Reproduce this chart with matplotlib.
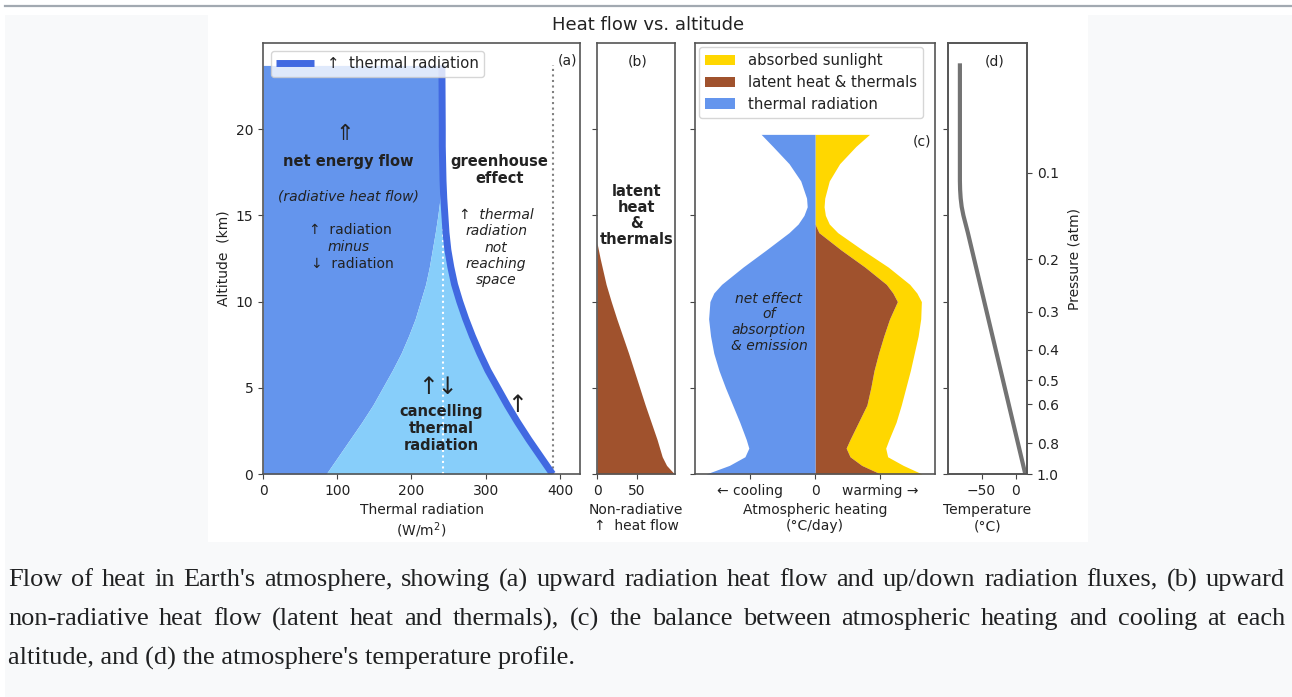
import matplotlib
matplotlib.use("Agg")
import matplotlib.pyplot as plt
from matplotlib.patches import Rectangle
from matplotlib.lines import Line2D

W, H = 1292, 697

# (a) thermal radiation, W/m2
alt_a = [0, 1, 2, 3, 4, 5, 6, 7, 8, 9, 10, 11, 12, 13, 14, 15, 16, 17, 18, 19, 20, 23.7]
up_flux = [390, 374, 358, 343, 329, 316, 303, 292, 282, 273, 265, 258, 253, 249, 246.5,
           245, 243.5, 242.5, 242, 241.5, 241.5, 241]
net_flux = [85, 101, 117, 133, 148, 161, 174, 186, 196, 205, 212, 219, 224, 228, 232,
            235.5, 238.5, 240.5, 241.5, 241.5, 241.5, 241]
surface_emission = 390
olr = 242

# (b) non-radiative upward heat flow
alt_b = [0, 0.5, 1, 2, 3, 4, 5, 6, 7, 8, 9, 10, 11, 12, 12.5, 13, 13.4]
nonrad_flow = [98, 88, 82.5, 76, 68.5, 61, 54, 47, 40, 32.5, 25, 18, 11.5, 6.5, 4, 1.8, 0]

# (c) heating rates, degC/day
alt_c = [0, 0.5, 1, 1.5, 2, 3, 4, 5, 6, 7, 8, 9, 10, 10.5, 11, 12, 13, 14, 14.5, 15,
         15.5, 16, 17, 18, 19, 19.7]
cooling = [1.68, 1.32, 1.08, 1.02, 1.06, 1.16, 1.27, 1.38, 1.48, 1.56, 1.61, 1.64, 1.62,
           1.56, 1.44, 1.11, 0.75, 0.40, 0.26, 0.17, 0.12, 0.13, 0.22, 0.40, 0.65, 0.83]
latent = [1.01, 0.72, 0.54, 0.48, 0.54, 0.67, 0.80, 0.86, 0.91, 0.98, 1.06, 1.15, 1.27,
          1.20, 1.10, 0.77, 0.40, 0.06, 0, 0, 0, 0, 0, 0, 0, 0]
solar = [0.64, 0.64, 0.58, 0.61, 0.60, 0.58, 0.53, 0.54, 0.56, 0.55, 0.53, 0.48, 0.37,
         0.37, 0.36, 0.36, 0.33, 0.29, 0.22, 0.16, 0.14, 0.15, 0.22, 0.38, 0.63, 0.84]

# (d) temperature profile
alt_d = [0, 5, 10, 14, 15, 15.5, 16, 16.5, 17, 23.7]
temp_c = [14, -16, -46, -70, -76.5, -79, -80.5, -81.3, -81.6, -81.6]
pressure_labels = ["0.1", "0.2", "0.3", "0.4", "0.5", "0.6", "0.8", "1.0"]
pressure_alt = [17.48, 12.46, 9.42, 7.2, 5.45, 4.04, 1.78, 0.0]

caption_lines = [
    "Flow of heat in Earth's atmosphere, showing (a) upward radiation heat flow and up/down radiation fluxes, (b) upward",
    "non-radiative heat flow (latent heat and thermals), (c) the balance between atmospheric heating and cooling at each",
    "altitude, and (d) the atmosphere's temperature profile.",
]

MID = "#6495ED"
LIGHT = "#87CEFA"
DARK = "#4169E1"
BROWN = "#A0522D"
GOLD = "#FFD700"
TXT = "#222222"

plt.rcParams["font.family"] = ["DejaVu Sans"]
plt.rcParams["font.size"] = 10
plt.rcParams["text.color"] = TXT
plt.rcParams["axes.labelcolor"] = TXT
plt.rcParams["xtick.color"] = "#444444"
plt.rcParams["ytick.color"] = "#444444"
plt.rcParams["xtick.labelcolor"] = TXT
plt.rcParams["ytick.labelcolor"] = TXT
plt.rcParams["axes.edgecolor"] = "#555555"
plt.rcParams["axes.linewidth"] = 1.2


def px(x):
    return x / W


def py(y):
    return 1 - y / H


fig = plt.figure(figsize=(W / 100, H / 100), dpi=100)
fig.patch.set_facecolor("white")
fig.add_artist(Rectangle((px(5), 0), 1 - px(5), py(15), transform=fig.transFigure,
                         facecolor="#f8f9fa", edgecolor="none", zorder=-20))
fig.add_artist(Rectangle((px(208), py(542)), px(1088 - 208), (542 - 15) / H,
                         transform=fig.transFigure, facecolor="white", edgecolor="none",
                         zorder=-19))
fig.add_artist(Line2D([px(5), 1], [py(5.5), py(5.5)], transform=fig.transFigure,
                      color="#a2a9b1", lw=1.6, zorder=-18))

bottom, top = py(474), py(43)
hgt = top - bottom
ax_a = fig.add_axes([px(263), bottom, px(580 - 263), hgt])
ax_b = fig.add_axes([px(597), bottom, px(675 - 597), hgt])
ax_c = fig.add_axes([px(695), bottom, px(935 - 695), hgt])
ax_d = fig.add_axes([px(948), bottom, px(1027 - 948), hgt])

for ax in (ax_a, ax_b, ax_c, ax_d):
    ax.set_ylim(0, 25)
    ax.set_yticks([0, 5, 10, 15, 20])
for ax in (ax_b, ax_c, ax_d):
    ax.set_yticklabels([])

# ---- (a)
ax_a.fill_betweenx(alt_a, 0, net_flux, color=MID, lw=0)
ax_a.fill_betweenx(alt_a, net_flux, up_flux, color=LIGHT, lw=0)
ax_a.plot([olr, olr], [0, alt_a[-1]], color="white", ls=":", lw=1.5)
ax_a.plot([surface_emission, surface_emission], [0, alt_a[-1]], color="gray", ls=":", lw=1.5)
ax_a.plot(up_flux, alt_a, color=DARK, lw=5, solid_capstyle="butt",
          label="↑  thermal radiation")
ax_a.set_xlim(0, 427)
ax_a.set_xticks([0, 100, 200, 300, 400])
ax_a.set_xlabel("Thermal radiation\n(W/m$^2$)")
ax_a.set_ylabel("Altitude  (km)")
ax_a.legend(loc="upper left", fontsize=10.7, borderaxespad=0.55, handlelength=2.5,
            handletextpad=0.9, borderpad=0.35)
ax_a.text(410, 24.0, "(a)", ha="center", va="center")
ax_a.text(110, 19.7, "⇑", ha="center", va="center", fontsize=16)
ax_a.text(115, 18.12, "net energy flow", ha="center", va="center", fontweight="bold",
          fontsize=10.5)
ax_a.text(114.5, 16.09, "(radiative heat flow)", ha="center", va="center", style="italic")
ax_a.text(118, 14.16, "↑  radiation", ha="center", va="center")
ax_a.text(115.5, 13.15, "minus", ha="center", va="center", style="italic")
ax_a.text(120, 12.18, "↓  radiation", ha="center", va="center")
ax_a.text(318.6, 17.64, "greenhouse\neffect", ha="center", va="center", fontweight="bold",
          fontsize=10.5, linespacing=1.15)
ax_a.text(314, 13.13, "↑  thermal\nradiation\nnot\nreaching\nspace", ha="center",
          va="center", style="italic", linespacing=1.22)
ax_a.text(235.5, 5.05, "↑↓", ha="center", va="center", fontsize=17)
ax_a.text(240, 2.65, "cancelling\nthermal\nradiation", ha="center", va="center",
          fontweight="bold", fontsize=10.5, linespacing=1.15)
ax_a.text(342, 4.0, "↑", ha="center", va="center", fontsize=17)

# ---- (b)
ax_b.fill_betweenx(alt_b, 0, nonrad_flow, color=BROWN, lw=0)
ax_b.set_xlim(0, 98.7)
ax_b.set_xticks([0, 50])
ax_b.set_xlabel("Non-radiative\n↑  heat flow")
ax_b.text(51, 23.9, "(b)", ha="center", va="center")
ax_b.text(50.4, 15.0, "latent\nheat\n&\nthermals", ha="center", va="center",
          fontweight="bold", fontsize=10.5, linespacing=1.1)

# ---- (c)
total = [l + s for l, s in zip(latent, solar)]
neg_cool = [-c for c in cooling]
ax_c.fill_betweenx(alt_c, latent, total, color=GOLD, lw=0, label="absorbed sunlight")
ax_c.fill_betweenx(alt_c, 0, latent, color=BROWN, lw=0, label="latent heat & thermals")
ax_c.fill_betweenx(alt_c, neg_cool, 0, color=MID, lw=0, label="thermal radiation")
ax_c.set_xlim(-1.85, 1.85)
ax_c.set_xticks([-1, 0, 1])
ax_c.set_xticklabels(["← cooling", "0", "warming →"])
ax_c.set_xlabel("Atmospheric heating\n(°C/day)")
ax_c.legend(loc="upper left", fontsize=10.7, borderaxespad=0.3, borderpad=0.4,
            handlelength=2.0, handletextpad=0.9, labelspacing=0.45)
ax_c.text(1.65, 19.28, "(c)", ha="center", va="center")
ax_c.text(-0.71, 8.8, "net effect\nof\nabsorption\n& emission", ha="center", va="center",
          style="italic", linespacing=1.15)

# ---- (d)
ax_d.plot(temp_c, alt_d, color="0.45", lw=3)
ax_d.set_xlim(-99, 16.5)
ax_d.set_xticks([-50, 0])
ax_d.set_xlabel("Temperature\n(°C)")
ax_d.text(-30.6, 23.9, "(d)", ha="center", va="center")
ax_p = ax_d.twinx()
ax_p.set_ylim(0, 25)
ax_p.set_yticks(pressure_alt)
ax_p.set_yticklabels(pressure_labels)
ax_p.set_ylabel("Pressure (atm)", labelpad=6)

fig.text(px(648), py(25), "Heat flow vs. altitude", ha="center", va="center", fontsize=13)

# caption, justified like the page text
cap_kw = dict(fontsize=19, family="Liberation Serif", va="center", color="#202122")
renderer = fig.canvas.get_renderer()
for i, line in enumerate(caption_lines):
    y = py(580 + 39 * i)
    if i == len(caption_lines) - 1:
        fig.text(px(8), y, line, **cap_kw)
        continue
    words = [fig.text(0, y, w, **cap_kw) for w in line.split()]
    widths = [t.get_window_extent(renderer).width for t in words]
    gap = (1285 - 8 - sum(widths)) / (len(words) - 1)
    x = 8
    for t, wd in zip(words, widths):
        t.set_x(px(x))
        x += wd + gap

fig.savefig("out.png", dpi=100)
